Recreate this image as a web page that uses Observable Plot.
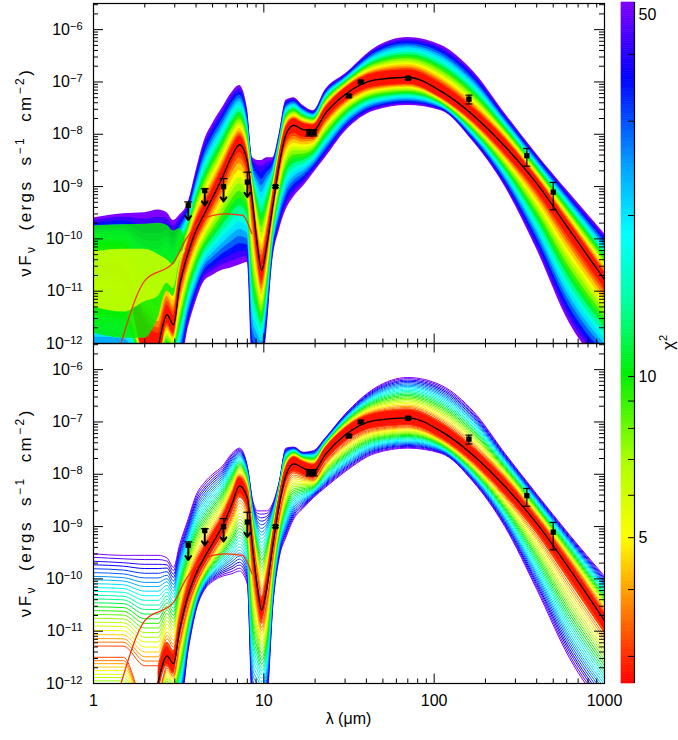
<!DOCTYPE html>
<html><head><meta charset="utf-8">
<script src="https://cdn.jsdelivr.net/npm/d3@7"></script>
<script src="https://cdn.jsdelivr.net/npm/@observablehq/plot@0.6"></script>
<style>
body{margin:0;background:#fff;}
#wrap{position:relative;width:678px;height:740px;font-family:"Liberation Sans",Arial,sans-serif;background:#fff;}
#wrap svg{position:absolute;top:0;overflow:visible;}
</style></head><body><div id="wrap"></div>
<script>
// ---------- DATA (log10 of nuFnu in erg s^-1 cm^-2) ----------
const wavelengths = [1, 1.5, 2, 2.4, 2.7, 2.95, 3.2, 3.6, 4, 4.5, 5, 5.7, 6.5, 7.2, 8, 8.6, 9.2, 9.7, 10.4, 11.3, 12.3, 13.5, 15, 17, 19.5, 23, 30, 45, 70, 110, 170, 260, 400, 620, 1000];

// top panel: best fit, outer (chi2~50) envelope, inner (best chi2) core
const bestFitTop = [-14, -14, -13.4, -12.05, -11.45, -11.64, -10.9, -10.26, -9.84, -9.51, -9.21, -8.83, -8.41, -8.2, -8.52, -9.32, -10.17, -10.6, -10.13, -9.36, -8.6, -8.0, -7.83, -7.91, -7.93, -7.6, -7.24, -6.96, -6.91, -7.18, -7.64, -8.23, -8.94, -9.82, -10.78];
const envUpperTop = [-9.6, -9.52, -9.5, -9.45, -9.5, -9.65, -9.55, -9.3, -8.7, -8.1, -7.8, -7.5, -7.2, -7.07, -7.5, -8.45, -8.5, -8.5, -8.45, -8.45, -8.0, -7.35, -7.3, -7.45, -7.55, -7.15, -6.85, -6.35, -6.15, -6.3, -6.8, -7.6, -8.38, -9.12, -9.9];
const envLowerTop = [-12.5, -12.5, -12.5, -12.5, -12.5, -12.5, -12.5, -11.7, -11.2, -10.8, -10.7, -10.6, -10.55, -10.5, -10.45, -12.5, -12.5, -12.5, -11.8, -10.4, -9.85, -9.45, -9.2, -9.0, -8.75, -8.45, -7.95, -7.55, -7.45, -7.55, -8.15, -9.0, -10.2, -11.6, -12.5];
const coreUpperTop = [-10.5, -10.6, -11.6, -11.85, -11.3, -11.5, -10.75, -10.1, -9.68, -9.36, -9.06, -8.68, -8.27, -8.06, -8.38, -9.15, -10.0, -10.45, -9.98, -9.2, -8.45, -7.88, -7.72, -7.8, -7.83, -7.5, -7.13, -6.84, -6.78, -7.05, -7.52, -8.1, -8.84, -9.7, -10.66];
const coreLowerTop = [-10.5, -10.6, -12.2, -12.3, -11.6, -11.8, -11.05, -10.4, -9.98, -9.64, -9.34, -8.96, -8.53, -8.32, -8.66, -9.48, -10.35, -10.78, -10.3, -9.5, -8.72, -8.12, -7.96, -8.04, -8.05, -7.72, -7.35, -7.08, -7.03, -7.3, -7.76, -8.36, -9.07, -9.96, -10.92];

// bottom panel
const bestFitBottom = [-14, -14, -13.4, -11.96, -11.47, -11.62, -10.99, -10.3, -9.9, -9.58, -9.32, -9.0, -8.57, -8.22, -8.45, -9.4, -10.2, -10.6, -10.18, -9.36, -8.6, -8.01, -7.8, -7.88, -7.95, -7.62, -7.25, -6.97, -6.92, -7.18, -7.64, -8.23, -8.94, -9.8, -10.8];
const envUpperBottom = [-9.52, -9.55, -9.55, -9.55, -9.6, -9.78, -9.35, -8.85, -8.4, -8.15, -8.0, -7.85, -7.6, -7.5, -7.85, -8.5, -8.7, -8.7, -8.7, -8.55, -8.15, -7.5, -7.48, -7.58, -7.55, -7.3, -6.85, -6.35, -6.15, -6.3, -6.8, -7.6, -8.38, -9.15, -9.95];
const envLowerBottom = [-13, -13, -13, -12.5, -12.5, -12.5, -12.5, -11.35, -10.6, -10.2, -10.05, -9.95, -9.9, -9.85, -10.1, -12.5, -12.5, -12.5, -12.3, -10.5, -9.6, -9.2, -8.85, -8.65, -8.45, -8.25, -7.95, -7.6, -7.5, -7.6, -8.15, -9.0, -10.2, -11.5, -12.5];
const coreUpperBottom = [-11.4, -11.4, -11.8, -11.8, -11.32, -11.48, -10.85, -10.15, -9.75, -9.43, -9.17, -8.85, -8.43, -8.08, -8.32, -9.25, -10.05, -10.45, -10.03, -9.2, -8.45, -7.88, -7.68, -7.77, -7.83, -7.5, -7.13, -6.85, -6.79, -7.05, -7.52, -8.1, -8.84, -9.68, -10.68];
const coreLowerBottom = [-11.4, -11.4, -12.3, -12.2, -11.62, -11.78, -11.12, -10.45, -10.05, -9.72, -9.46, -9.14, -8.7, -8.35, -8.58, -9.55, -10.35, -10.75, -10.33, -9.5, -8.74, -8.14, -7.92, -8.0, -8.07, -7.74, -7.37, -7.1, -7.05, -7.3, -7.76, -8.36, -9.06, -9.94, -10.94];

// short-wavelength scattered models (top panel), drawn as patches
const shortWavelengths = [1, 1.5, 2, 2.4, 2.7, 2.95, 3.2, 3.45];
const greenPatchUpperTop = [-9.75, -9.73, -9.72, -9.7, -9.74, -9.85, -9.8, -10.0];
const greenPatchLowerTop = [-11.8, -11.9, -11.9, -11.5, -11.0, -11.1, -10.5, -10.1];
const yellowPatchUpperTop = [-10.25, -10.2, -10.2, -10.3, -10.4, -10.5, -10.3, -10.2];
const yellowPatchLowerTop = [-11.3, -11.4, -11.2, -11.1, -10.85, -10.95, -10.45, -10.25];
const patchChi = [10, 6];

// one low-chi2 model that departs from the band at short wavelengths (both panels)
const redModelWavelengths = [1.45, 2.0, 2.95, 3.5, 4.5, 6, 7.5, 8.5];
const redModelFlux = [-12.0, -10.8, -10.45, -10.0, -9.6, -9.52, -9.55, -9.9];
const redModelChi = 3.0;

// chi^2 of the model families drawn (outermost first)
const chiLevelsTop = [50, 42, 35, 29, 24, 20, 16.5, 13.5, 11, 9, 7.5, 6.2, 5.2, 4.4, 3.7, 3.2, 2.8];
const chiLevelsBottom = [50, 45, 40, 36, 32, 28.5, 25.5, 23, 20.5, 18.3, 16.3, 14.5, 13, 11.6, 10.3, 9.2, 8.2, 7.3, 6.5, 5.8, 5.1, 4.5, 4.0, 3.6, 3.2, 2.8];
const chiDomain = [2.67, 50];
const chiTickLabels = [5, 10, 50];
const chiMinorTicks = [3, 4, 6, 7, 8, 9, 20, 30, 40];

// observed photometry
const obsWavelength = [11.7, 18.4, 19.7, 31.6, 37.1, 70.4, 160, 350, 500];
const obsFlux = [1.0e-9, 1.08e-8, 1.08e-8, 5.4e-8, 1.0e-7, 1.18e-7, 4.7e-8, 3.9e-9, 7.8e-10];
const obsError = [5e-11, 1.5e-9, 1.5e-9, 3e-9, 5e-9, 6e-9, 9e-9, 1.45e-9, 4.2e-10];
const limWavelength = [3.6, 4.5, 5.8, 8.0];
const limFlux = [4.4e-10, 8.4e-10, 1.0e-9, 1.22e-9];
const limCap = [5.1e-10, 9.1e-10, 1.42e-9, 1.88e-9];

const panels = ["top", "bottom"];
const xTickLabels = [1, 10, 100, 1000];
const yTickLabels = [1e-12, 1e-11, 1e-10, 1e-9, 1e-8, 1e-7, 1e-6];

const colorStops = [0, 0.05, 0.11, 0.216, 0.33, 0.454, 0.56, 0.66, 0.76, 0.89, 1];
const colorValues = ["#ff0000", "#ff3800", "#ff8000", "#ffff00", "#a8ff00", "#00ee00", "#00ffa0", "#00ffff", "#00a0ff", "#0000ff", "#8000ff"];

// ---------- BUILD ----------
const sets = {
  top: {best: bestFitTop, eu: envUpperTop, el: envLowerTop, cu: coreUpperTop, cl: coreLowerTop, chis: chiLevelsTop},
  bottom: {best: bestFitBottom, eu: envUpperBottom, el: envLowerBottom, cu: coreUpperBottom, cl: coreLowerBottom, chis: chiLevelsBottom}
};
const rainbowScale = d3.scaleLinear().domain(colorStops).range(colorValues).interpolate(d3.interpolateRgb).clamp(true);
const rainbow = t => rainbowScale(t);
const tOf = chi => Math.max(0, Math.min(1, Math.log(chi / chiDomain[0]) / Math.log(chiDomain[1] / chiDomain[0])));
const P = v => Math.pow(10, v);

const bandRowsTop = [], bandRowsBottomCore = [], edgeRowsBottom = [], bestRows = [];
for (const p of panels) {
  const S = sets[p];
  for (const chi of S.chis) {
    const t = tOf(chi);
    wavelengths.forEach((lam, i) => {
      const u = S.cu[i] + t * (S.eu[i] - S.cu[i]);
      const l = S.cl[i] + t * (S.el[i] - S.cl[i]);
      const row = {panel: p, chi, lam, y1: P(l), y2: P(u)};
      if (p === "top") bandRowsTop.push(row);
      else {
        if (chi <= 3.2) bandRowsBottomCore.push(row);
        if (chi > 2.9) {
          edgeRowsBottom.push({panel: p, chi, lam, key: chi + "u", f: P(u)});
          edgeRowsBottom.push({panel: p, chi, lam, key: chi + "l", f: P(l)});
        }
      }
    });
  }
  wavelengths.forEach((lam, i) => bestRows.push({panel: p, lam, f: P(S.best[i])}));
}
// the bottom-panel core area only where models cluster tightly (lambda > 2.2 um)
const bottomCore = bandRowsBottomCore.filter(d => d.lam > 2.2);
edgeRowsBottom.sort((a, b) => (b.chi - a.chi) || (a.key < b.key ? -1 : a.key > b.key ? 1 : 0) || (a.lam - b.lam));

const patchRows = [];
shortWavelengths.forEach((lam, i) => patchRows.push({panel: "top", chi: patchChi[0], lam, y1: P(greenPatchLowerTop[i]), y2: P(greenPatchUpperTop[i])}));
shortWavelengths.forEach((lam, i) => patchRows.push({panel: "top", chi: patchChi[1], lam, y1: P(yellowPatchLowerTop[i]), y2: P(yellowPatchUpperTop[i])}));
const redRows = [];
for (const p of panels) redModelWavelengths.forEach((lam, i) => redRows.push({panel: p, lam, f: P(redModelFlux[i]), chi: redModelChi}));

const obsRows = [], limRows = [];
for (const p of panels) {
  obsWavelength.forEach((lam, i) => obsRows.push({panel: p, lam, f: obsFlux[i], lo: obsFlux[i] - obsError[i], hi: obsFlux[i] + obsError[i]}));
  limWavelength.forEach((lam, i) => limRows.push({panel: p, lam, f: limFlux[i], cap: limCap[i], tip: limFlux[i] * 0.52}));
}

const W = 615, H = 740, ML = 93, MR = 11, MT = 2, MB = 57;
const plotW = W - ML - MR;
const facetH = (H - MT - MB) / 2;
const yTop = Math.pow(10, -5.5);
const yMinor = [];
for (let e = -12; e <= -6; e++) for (let m = 2; m <= 9; m++) { const v = m * Math.pow(10, e); if (v <= yTop) yMinor.push(v); }
const xMinor = [];
for (let e = 0; e < 3; e++) for (let m = 2; m <= 9; m++) xMinor.push(m * Math.pow(10, e));

const capSymbol = {draw(ctx, size) { const w = Math.sqrt(size / Math.PI); ctx.moveTo(-w, 0); ctx.lineTo(w, 0); }};
const colorOpt = {type: "log", domain: chiDomain, interpolate: rainbow};

const main = Plot.plot({
  width: W, height: H, marginLeft: ML, marginRight: MR, marginTop: MT, marginBottom: MB,
  style: {fontFamily: "'Liberation Sans', Arial, sans-serif", fontSize: "16px", color: "black", background: "white"},
  x: {type: "log", domain: [1, 1000], axis: null, label: null},
  y: {type: "log", domain: [1e-12, yTop], axis: null, label: null},
  fy: {domain: panels, padding: 0, axis: null},
  color: colorOpt,
  marks: [
    Plot.areaY(bandRowsTop, {x: "lam", y1: "y1", y2: "y2", z: "chi", fill: "chi", fy: "panel", curve: "monotone-x", clip: true}),
    Plot.areaY(patchRows, {x: "lam", y1: "y1", y2: "y2", z: "chi", fill: "chi", fy: "panel", curve: "monotone-x", fillOpacity: 0.85, clip: true}),
    Plot.line(edgeRowsBottom, {x: "lam", y: "f", z: "key", stroke: "chi", fy: "panel", strokeWidth: 1, curve: "monotone-x", clip: true}),
    Plot.areaY(bottomCore, {x: "lam", y1: "y1", y2: "y2", z: "chi", fill: "chi", fy: "panel", curve: "monotone-x", clip: true}),
    Plot.line(redRows, {x: "lam", y: "f", stroke: "chi", fy: "panel", strokeWidth: 1.2, curve: "monotone-x", clip: true}),
    Plot.line(bestRows, {x: "lam", y: "f", fy: "panel", stroke: "black", strokeWidth: 1.3, curve: "monotone-x", clip: true}),
    Plot.ruleX(obsRows, {x: "lam", y1: "lo", y2: "hi", fy: "panel", stroke: "black", strokeWidth: 1.2}),
    Plot.dot(obsRows, {x: "lam", y: "lo", fy: "panel", symbol: capSymbol, r: 3.5, stroke: "black", strokeWidth: 1.2}),
    Plot.dot(obsRows, {x: "lam", y: "hi", fy: "panel", symbol: capSymbol, r: 3.5, stroke: "black", strokeWidth: 1.2}),
    Plot.dot(obsRows, {x: "lam", y: "f", fy: "panel", symbol: "square", r: 3, fill: "black"}),
    Plot.ruleX(limRows, {x: "lam", y1: "f", y2: "cap", fy: "panel", stroke: "black", strokeWidth: 1.2}),
    Plot.dot(limRows, {x: "lam", y: "cap", fy: "panel", symbol: capSymbol, r: 4, stroke: "black", strokeWidth: 1.2}),
    Plot.arrow(limRows, {x1: "lam", y1: "f", x2: "lam", y2: "tip", fy: "panel", stroke: "black", strokeWidth: 2, headLength: 7, headAngle: 70}),
    Plot.dot(limRows, {x: "lam", y: "f", fy: "panel", symbol: "square", r: 3, fill: "black"}),
    // inward ticks
    Plot.tickY(yTickLabels, {y: d => d, insetRight: plotW - 10, stroke: "black"}),
    Plot.tickY(yTickLabels, {y: d => d, insetLeft: plotW - 10, stroke: "black"}),
    Plot.tickY(yMinor, {y: d => d, insetRight: plotW - 5, stroke: "black"}),
    Plot.tickY(yMinor, {y: d => d, insetLeft: plotW - 5, stroke: "black"}),
    Plot.tickX(xTickLabels, {x: d => d, insetBottom: facetH - 10, stroke: "black"}),
    Plot.tickX(xTickLabels, {x: d => d, insetTop: facetH - 10, stroke: "black"}),
    Plot.tickX(xMinor, {x: d => d, insetBottom: facetH - 5, stroke: "black"}),
    Plot.tickX(xMinor, {x: d => d, insetTop: facetH - 5, stroke: "black"}),
    Plot.frame({stroke: "black", strokeWidth: 1.2}),
    Plot.axisY(yTickLabels, {anchor: "left", tickSize: 0, tickPadding: 11, label: null, tickFormat: d => "10^" + Math.round(Math.log10(d))}),
    Plot.axisX(xTickLabels, {anchor: "bottom", tickSize: 0, tickPadding: 11, label: null, tickFormat: d => String(d)})
  ]
});

// superscript exponents on the y tick labels
d3.select(main).selectAll('[aria-label="y-axis tick label"] text').each(function () {
  const m = this.textContent.match(/^10\^(-?\d+)$/);
  if (m) {
    this.textContent = "10";
    d3.select(this).append("tspan").attr("dy", "-0.45em").attr("font-size", "11px").text(m[1].replace("-", "\u2212"));
  }
});
const svg = d3.select(main);
[MT + facetH / 2, MT + facetH * 1.5].forEach(cy => {
  const t = svg.append("text").attr("transform", `translate(31,${cy}) rotate(-90)`)
    .attr("text-anchor", "middle").attr("font-size", 17).attr("fill", "black")
    .style("white-space", "pre").style("letter-spacing", "2.4px");
  [["\u03BDF", 0, 17], ["\u03BD", 4, 12], ["  (ergs  s", -4, 17], ["\u22121", -7, 12], ["  cm", 7, 17], ["\u22122", -7, 12], [")", 7, 17]]
    .forEach(([s, dy, fs]) => t.append("tspan").attr("dy", dy).attr("font-size", fs).text(s));
});
svg.append("text").attr("x", ML + plotW / 2).attr("y", 724).attr("text-anchor", "middle")
  .attr("font-size", 16).attr("fill", "black").style("white-space", "pre").text("\u03BB (\u03BCm)");

// ---------- COLOR BAR ----------
const rampN = 300;
const ramp = d3.range(rampN).map(i => ({
  a: chiDomain[0] * Math.pow(chiDomain[1] / chiDomain[0], i / rampN),
  b: chiDomain[0] * Math.pow(chiDomain[1] / chiDomain[0], (i + 1) / rampN)
}));
const cbar = Plot.plot({
  width: 63, height: H, marginLeft: 6, marginRight: 44, marginTop: MT, marginBottom: MB,
  style: {fontFamily: "'Liberation Sans', Arial, sans-serif", fontSize: "16px", color: "black", background: "transparent"},
  x: {domain: [0, 1], axis: null, label: null},
  y: {type: "log", domain: chiDomain, axis: null, label: null},
  color: colorOpt,
  marks: [
    Plot.rect(ramp, {x1: 0, x2: 1, y1: "a", y2: "b", fill: d => Math.sqrt(d.a * d.b), stroke: d => Math.sqrt(d.a * d.b), strokeWidth: 0.6}),
    Plot.tickY(chiMinorTicks.concat([5, 10]), {y: d => d, insetLeft: 7, stroke: "black"}),
    Plot.ruleX([1], {stroke: "black", strokeWidth: 1.2}),
    Plot.axisY(chiTickLabels, {anchor: "right", tickSize: 0, tickPadding: 4, label: null, tickFormat: d => String(d)})
  ]
});
cbar.style.left = "615px";
d3.select(cbar).selectAll('[aria-label="y-axis tick label"] text').each(function () {
  if (this.textContent === "50") d3.select(this).attr("dy", "0.75em");
});
const ct = d3.select(cbar).append("text").attr("transform", `translate(59,${MT + facetH}) rotate(-90)`)
  .attr("text-anchor", "middle").attr("font-size", 17).attr("fill", "black");
ct.append("tspan").text("\u03C7");
ct.append("tspan").attr("dy", -7).attr("font-size", 11).text("2");

main.style.left = "0px";
document.getElementById("wrap").append(main, cbar);
</script>
</body></html>
